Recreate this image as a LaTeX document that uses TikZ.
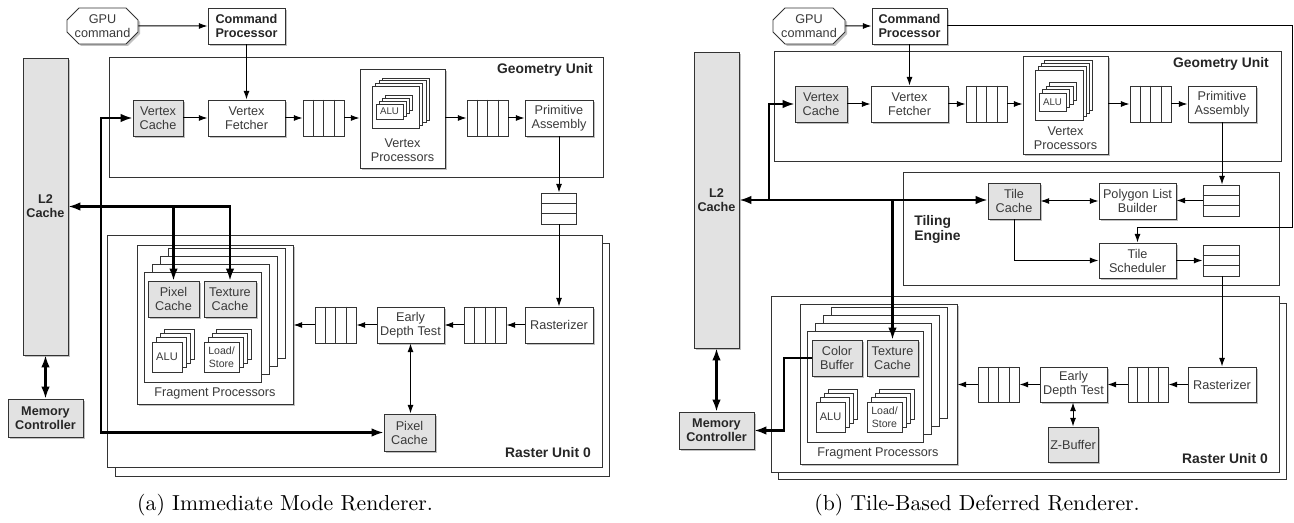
\documentclass[tikz,border=0pt]{standalone}
\usepackage{fontspec}
\setsansfont{Liberation Sans}
\newfontfamily\capf{lmroman10-regular.otf}
\usetikzlibrary{shapes.misc,shadows,calc,arrows.meta}
\definecolor{lc}{HTML}{333333}
\definecolor{gf}{HTML}{E2E2E2}
\definecolor{tc}{HTML}{3A3A3A}
\newcommand\nf{\sffamily\fontsize{9.5}{10.5}\selectfont}
\newcommand\nfb{\sffamily\bfseries\fontsize{9.5}{10.5}\selectfont}
\newcommand\lbf{\sffamily\bfseries\fontsize{10.4}{11.3}\selectfont}
\newcommand\alufa{\sffamily\fontsize{8.3}{9.5}\selectfont}
\newcommand\alufb{\sffamily\fontsize{7.3}{8.5}\selectfont}
\newcommand\lsf{\sffamily\fontsize{7.9}{9.5}\selectfont}
\tikzset{
 bb/.style n args={4}{at={({(#1+#3)/2},{(#2+#4)/2})}, minimum width={(#3-#1)*0.75pt}, minimum height={(#4-#2)*0.75pt}},
 shd/.style={drop shadow={shadow xshift=1.5pt,shadow yshift=-1.5pt,fill=black!35,opacity=0.7}},
 blk/.style={draw=lc, line width=0.7pt, fill=white, inner sep=0pt, align=center, font=\nf, text=tc, shd},
 gblk/.style={blk, fill=gf},
 bblk/.style={blk, font=\nfb, text=black!85},
 frame/.style={draw=lc, line width=0.7pt, fill=white, inner sep=0pt},
 card/.style={draw=lc, line width=0.7pt, fill=white},
 cardn/.style={draw=lc, line width=0.7pt, fill=white, inner sep=0pt, align=center, text=tc},
 que/.style={draw=lc, line width=0.7pt, fill=white, inner sep=0pt},
 ln/.style={line width=0.75pt, -{Latex[length=6.5pt,width=4.5pt]}},
 dln/.style={line width=0.75pt, {Latex[length=6.5pt,width=4.5pt]}-{Latex[length=6.5pt,width=4.5pt]}},
 bus/.style={line width=1.6pt, -{Latex[length=9pt,width=6.5pt]}},
 dbus/.style={line width=1.6pt, {Latex[length=9pt,width=6.5pt]}-{Latex[length=9pt,width=6.5pt]}},
 ttl/.style={font=\lbf, text=black!85, inner sep=0pt},
 lbl/.style={font=\nf, text=tc, align=center, inner sep=0pt},
 captxt/.style={font=\capf\fontsize{16.3}{18}\selectfont, inner sep=0pt},
}
% back cards of a stack: x1 y1 x2 y2 dx dy
\newcommand\stk[6]{\foreach \i in {3,2,1}{\draw[card] ({#1+\i*#5},{#2-\i*#6}) rectangle ({#3+\i*#5},{#4-\i*#6});}}
\newcommand\hq[5]{\node[que, bb={#2}{#3}{#4}{#5}] (#1) {};
 \foreach \k in {1,2,3}{\draw[lc, line width=0.7pt] ($(#1.north west)!\k/4!(#1.north east)$) -- ($(#1.south west)!\k/4!(#1.south east)$);}}
\newcommand\vq[5]{\node[que, bb={#2}{#3}{#4}{#5}] (#1) {};
 \foreach \k in {1,2}{\draw[lc, line width=0.7pt] ($(#1.north west)!\k/3!(#1.south west)$) -- ($(#1.north east)!\k/3!(#1.south east)$);}}
\begin{document}
\begin{tikzpicture}[x=0.75pt,y=-0.75pt]
\useasboundingbox (0,0) rectangle (1294,523);

%%%%%%%%%%%%%%%% (a) %%%%%%%%%%%%%%%%
\node[blk, chamfered rectangle, chamfered rectangle xsep=4.5pt, chamfered rectangle ysep=4.5pt, bb={67}{8}{138}{44}] (gpuA) {GPU\\command};
\node[bblk, bb={208}{8}{285}{44}] (cpA) {Command\\Processor};
\node[frame, bb={109}{57}{603}{177}] (geoA) {};
\node[ttl, anchor=east] (geoAl) at (593,70) {Geometry Unit};
\node[gblk, font=\nfb, text=black!85, bb={23}{58}{68}{355}] (l2A) {L2\\Cache};
\node[gblk, bb={133}{100}{183}{136}] (vcA) {Vertex\\Cache};
\node[blk, bb={208}{100}{285}{136}] (vfA) {Vertex\\Fetcher};
\hq{qA1}{303}{100}{344}{136}
\node[blk, bb={360}{69}{445}{168}] (vpA) {};
\stk{372}{86}{419}{128}{3.5}{2.6}
\node[cardn, bb={372}{86}{419}{128}] (vpcA) {};
\stk{376}{104}{403}{119}{3}{3}
\node[cardn, font=\alufb, bb={376}{104}{403}{119}] (aluvA) {ALU};
\node[lbl] (vptA) at (402.5,150) {Vertex\\Processors};
\hq{qA2}{467}{100}{508}{136}
\node[blk, bb={525}{100}{593}{136}] (paA) {Primitive\\Assembly};
\vq{qA3}{541}{193}{576}{224}

\node[frame, bb={115}{243}{609}{476}] (rbA) {};
\node[frame, bb={107}{235}{602}{467}] (rfA) {};
\node[ttl, anchor=east] (rlA) at (591,453) {Raster Unit 0};
\node[blk, bb={137}{245}{293}{404}] (fpA) {};
\stk{144}{272}{261}{382}{8}{8}
\node[cardn, bb={144}{272}{261}{382}] (fcA) {};
\node[gblk, bb={148}{281}{199}{317}] (pcA) {Pixel\\Cache};
\node[gblk, bb={204}{281}{256}{317}] (tcA) {Texture\\Cache};
\stk{152}{342}{182}{372}{4}{4.3}
\node[cardn, font=\alufa, bb={152}{342}{182}{372}] (alufA) {ALU};
\stk{204}{342}{239}{372}{4}{4.3}
\node[cardn, font=\lsf, bb={204}{342}{239}{372}] (lsA) {Load/\\Store};
\node[lbl] (fptA) at (215,393) {Fragment Processors};
\hq{qA4}{315}{307}{356}{343}
\node[blk, bb={377}{307}{444}{343}] (edtA) {Early\\Depth Test};
\hq{qA5}{464}{307}{506}{343}
\node[blk, bb={525}{307}{593}{343}] (rasA) {Rasterizer};
\node[gblk, bb={384}{414}{435}{451}] (pc2A) {Pixel\\Cache};
\node[gblk, font=\nfb, text=black!85, bb={8}{399}{83}{437}] (mcA) {Memory\\Controller};

\draw[ln] (gpuA) -- (cpA);
\draw[ln] (cpA.south) -- (vfA.north);
\draw[ln] (vcA) -- (vfA);
\draw[ln] (vfA) -- (qA1);
\draw[ln] (qA1.east) -- (vpA.west |- qA1.east);
\draw[ln] (vpA.east |- qA2.west) -- (qA2.west);
\draw[ln] (qA2) -- (paA);
\draw[ln] (paA.south) -- (qA3.north -| paA.south);
\draw[ln] (qA3.south -| rasA.north) -- (rasA.north);
\draw[ln] (rasA) -- (qA5);
\draw[ln] (qA5) -- (edtA);
\draw[ln] (edtA) -- (qA4);
\draw[ln] (qA4.west) -- (fpA.east |- qA4.west);
\draw[dln] (edtA.south) -- (pc2A.north -| edtA.south);
\coordinate (busA) at (101,0);
\draw[dbus] (vcA.west) -| (busA |- pc2A.west) -- (pc2A.west);
\draw[dbus] (l2A.east) -| (tcA.north);
\draw[bus] (pcA.north |- l2A.east) -- (pcA.north);
\draw[dbus] (l2A.south) -- (mcA.north);

\node[captxt] (capA) at (285,505) {(a) Immediate Mode Renderer.};

%%%%%%%%%%%%%%%% (b) %%%%%%%%%%%%%%%%
\node[blk, chamfered rectangle, chamfered rectangle xsep=4.5pt, chamfered rectangle ysep=4.5pt, bb={773}{8}{845}{44}] (gpuB) {GPU\\command};
\node[bblk, bb={872}{8}{947}{44}] (cpB) {Command\\Processor};
\node[frame, bb={774}{51}{1281}{161}] (geoB) {};
\node[ttl, anchor=east] (geoBl) at (1269,64) {Geometry Unit};
\node[gblk, font=\nfb, text=black!85, bb={694}{52}{739}{348}] (l2B) {L2\\Cache};
\node[gblk, bb={795}{86}{847}{122}] (vcB) {Vertex\\Cache};
\node[blk, bb={871}{86}{948}{122}] (vfB) {Vertex\\Fetcher};
\hq{qB1}{966}{86}{1007}{122}
\node[blk, bb={1023}{56}{1108}{154}] (vpB) {};
\stk{1035}{70}{1083}{120}{3}{3.3}
\node[cardn, bb={1035}{70}{1083}{120}] (vpcB) {};
\stk{1039}{93}{1066}{111}{3.5}{3.5}
\node[cardn, font=\alufb, bb={1039}{93}{1066}{111}] (aluvB) {ALU};
\node[lbl] (vptB) at (1065.5,138) {Vertex\\Processors};
\hq{qB2}{1130}{86}{1171}{122}
\node[blk, bb={1188}{86}{1256}{122}] (paB) {Primitive\\Assembly};

\node[frame, bb={903}{172}{1279}{285}] (teB) {};
\node[ttl, anchor=west, align=left] (teBl) at (914,229.5) {Tiling\\Engine};
\node[gblk, bb={988}{183}{1040}{219}] (tcB) {Tile\\Cache};
\node[blk, bb={1099}{183}{1176}{219}] (plbB) {Polygon List\\Builder};
\vq{qB3}{1203}{185}{1239}{216}
\node[blk, bb={1099}{243}{1176}{278}] (tsB) {Tile\\Scheduler};
\vq{qB4}{1203}{245}{1239}{276}

\node[frame, bb={778}{303}{1286}{479}] (rbB) {};
\node[frame, bb={771}{296}{1279}{472}] (rfB) {};
\node[ttl, anchor=east] (rlB) at (1268,459) {Raster Unit 0};
\node[blk, bb={800}{304}{957}{464}] (fpB) {};
\stk{807}{331}{923}{442}{8}{7.7}
\node[cardn, bb={807}{331}{923}{442}] (fcB) {};
\node[gblk, bb={812}{340}{862}{376}] (cbB) {Color\\Buffer};
\node[gblk, bb={867}{340}{918}{376}] (txB) {Texture\\Cache};
\stk{816}{402}{845}{432}{4}{4.3}
\node[cardn, font=\alufa, bb={816}{402}{845}{432}] (alufB) {ALU};
\stk{867}{402}{902}{432}{4}{4.3}
\node[cardn, font=\lsf, bb={867}{402}{902}{432}] (lsB) {Load/\\Store};
\node[lbl] (fptB) at (878,453) {Fragment Processors};
\hq{qB5}{978}{367}{1019}{402}
\node[blk, bb={1040}{367}{1107}{402}] (edtB) {Early\\Depth Test};
\hq{qB6}{1128}{367}{1168}{402}
\node[blk, bb={1188}{367}{1256}{402}] (rasB) {Rasterizer};
\node[gblk, bb={1048}{427}{1098}{462}] (zbB) {Z-Buffer};
\node[gblk, font=\nfb, text=black!85, bb={679}{412}{754}{449}] (mcB) {Memory\\Controller};

\draw[ln] (gpuB) -- (cpB);
\draw[ln] (cpB.south) -- (vfB.north);
\draw[ln] (vcB) -- (vfB);
\draw[ln] (vfB) -- (qB1);
\draw[ln] (qB1.east) -- (vpB.west |- qB1.east);
\draw[ln] (vpB.east |- qB2.west) -- (qB2.west);
\draw[ln] (qB2) -- (paB);
\draw[ln] (paB.south) -- (qB3.north -| paB.south);
\draw[ln] (qB3.west) -- (plbB.east |- qB3.west);
\draw[dln] (tcB.east) -- (plbB.west |- tcB.east);
\draw[ln] (tcB.south) |- (tsB.west);
\draw[ln] (tsB.east) -- (qB4.west |- tsB.east);
\coordinate (cpR) at (1292,228);
\draw[ln] (cpB.east) -| (cpR) -| (tsB.north);
\draw[ln] (qB4.south -| rasB.north) -- (rasB.north);
\draw[ln] (rasB) -- (qB6);
\draw[ln] (qB6) -- (edtB);
\draw[ln] (edtB) -- (qB5);
\draw[ln] (qB5.west) -- (fpB.east |- qB5.west);
\draw[dln] (edtB.south -| zbB.north) -- (zbB.north);
\coordinate (busB) at (769,0);
\coordinate (busC) at (784,0);
\draw[dbus] (l2B.east) -- (tcB.west |- l2B.east);
\draw[bus] (busB |- l2B.east) |- (vcB.west);
\draw[bus] (txB.north |- l2B.east) -- (txB.north);
\draw[bus] (cbB.west) -| (busC |- mcB.east) -- (mcB.east);
\draw[dbus] (l2B.south -| mcB.north) -- (mcB.north);

\node[captxt] (capB) at (977,505) {(b) Tile-Based Deferred Renderer.};
\end{tikzpicture}
\end{document}
